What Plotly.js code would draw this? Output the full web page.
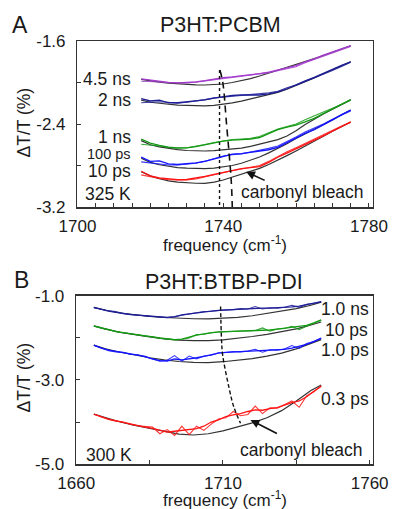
<!DOCTYPE html>
<html><head><meta charset="utf-8">
<script src="https://cdn.plot.ly/plotly-3.0.1.min.js"></script>
<style>html,body{margin:0;padding:0;background:#fff}#chart{width:393px;height:509px}</style>
</head><body><div id="chart"></div>
<script>
// ---------- Panel A: P3HT:PCBM (325 K) ----------
const freqA = [1717.5,1720,1722.5,1725,1727.5,1730,1732.5,1735,1737.5,1740,1742.5,1745,1747.5,1750,1752.5,1755,1757.5,1760,1762.5,1765,1767.5,1770,1772.5,1775];
const purpleA1 = [-1.965,-1.978,-1.99,-1.998,-2.003,-2.0,-1.993,-1.982,-1.965,-1.952,-1.945,-1.935,-1.928,-1.915,-1.9,-1.878,-1.86,-1.838,-1.8,-1.772,-1.735,-1.705,-1.675,-1.645];
const purpleA2 = [-1.988,-1.99,-1.995,-2.002,-2.006,-2.003,-1.996,-1.985,-1.97,-1.958,-1.948,-1.938,-1.93,-1.92,-1.905,-1.886,-1.867,-1.848,-1.81,-1.778,-1.745,-1.718,-1.685,-1.652];
const purpleFit = [-1.97,-1.985,-1.997,-2.006,-2.013,-2.018,-2.022,-2.024,-2.021,-2.014,-2.0,-1.984,-1.962,-1.937,-1.91,-1.882,-1.855,-1.83,-1.8,-1.77,-1.74,-1.71,-1.678,-1.645];
const navyA1 = [-2.155,-2.178,-2.17,-2.195,-2.195,-2.187,-2.178,-2.167,-2.15,-2.135,-2.125,-2.12,-2.12,-2.12,-2.11,-2.09,-2.06,-2.02,-1.985,-1.95,-1.91,-1.872,-1.835,-1.8];
const navyA2 = [-2.195,-2.19,-2.185,-2.19,-2.2,-2.19,-2.18,-2.165,-2.148,-2.14,-2.128,-2.125,-2.115,-2.11,-2.1,-2.085,-2.05,-2.025,-1.99,-1.96,-1.925,-1.885,-1.845,-1.805];
const navyFitA = [-2.17,-2.19,-2.2,-2.21,-2.217,-2.221,-2.224,-2.225,-2.22,-2.21,-2.197,-2.18,-2.16,-2.14,-2.118,-2.095,-2.065,-2.03,-1.993,-1.955,-1.915,-1.875,-1.838,-1.8];
const greenA1 = [-2.545,-2.585,-2.605,-2.622,-2.63,-2.63,-2.618,-2.6,-2.58,-2.565,-2.555,-2.55,-2.545,-2.53,-2.495,-2.455,-2.43,-2.41,-2.38,-2.345,-2.3,-2.255,-2.21,-2.165];
const greenA2 = [-2.595,-2.6,-2.612,-2.625,-2.632,-2.628,-2.615,-2.598,-2.578,-2.562,-2.55,-2.545,-2.538,-2.52,-2.485,-2.448,-2.425,-2.4,-2.36,-2.32,-2.285,-2.248,-2.21,-2.17];
const greenFitA = [-2.56,-2.6,-2.62,-2.635,-2.647,-2.655,-2.659,-2.66,-2.657,-2.65,-2.642,-2.632,-2.615,-2.595,-2.575,-2.55,-2.515,-2.465,-2.405,-2.35,-2.303,-2.258,-2.212,-2.167];
const blueA1 = [-2.72,-2.76,-2.755,-2.785,-2.79,-2.785,-2.775,-2.76,-2.735,-2.71,-2.69,-2.685,-2.675,-2.665,-2.648,-2.625,-2.58,-2.53,-2.49,-2.455,-2.41,-2.36,-2.31,-2.265];
const blueA2 = [-2.765,-2.775,-2.78,-2.795,-2.795,-2.79,-2.778,-2.758,-2.732,-2.708,-2.695,-2.688,-2.67,-2.655,-2.635,-2.612,-2.57,-2.525,-2.478,-2.44,-2.4,-2.355,-2.315,-2.275];
const blueFitA = [-2.73,-2.77,-2.793,-2.81,-2.82,-2.826,-2.829,-2.83,-2.825,-2.815,-2.8,-2.778,-2.75,-2.718,-2.678,-2.635,-2.59,-2.54,-2.495,-2.455,-2.41,-2.36,-2.31,-2.265];
const redA1 = [-2.855,-2.9,-2.92,-2.93,-2.937,-2.935,-2.922,-2.905,-2.885,-2.865,-2.845,-2.83,-2.82,-2.81,-2.77,-2.72,-2.68,-2.64,-2.6,-2.56,-2.515,-2.47,-2.425,-2.38];
const redA2 = [-2.89,-2.91,-2.925,-2.937,-2.942,-2.94,-2.93,-2.912,-2.89,-2.87,-2.85,-2.835,-2.818,-2.8,-2.76,-2.71,-2.668,-2.628,-2.585,-2.545,-2.505,-2.46,-2.42,-2.385];
const redFitA = [-2.86,-2.9,-2.928,-2.948,-2.96,-2.967,-2.971,-2.972,-2.96,-2.94,-2.912,-2.88,-2.855,-2.828,-2.79,-2.75,-2.705,-2.66,-2.61,-2.565,-2.518,-2.47,-2.425,-2.38];
const dotA_x = [1739, 1739];
const dotA_y = [-1.88, -3.2];
const dashA_x = [1739.1, 1739.9, 1740.9, 1742.2, 1742.5];
const dashA_y = [-1.88, -2.0, -2.39, -2.94, -3.2];
const labelsA = ['4.5 ns', '2 ns', '1 ns', '100 ps', '10 ps'];
const xTickValsA = [1700, 1740, 1780];
const xTickTextA = ['1700', '1740', '1780'];
const yTickValsA = [-3.2, -2.4, -1.6];
const yTickTextA = ['-3.2', '-2.4', '-1.6'];

// ---------- Panel B: P3HT:BTBP-PDI (300 K) ----------
const freqB = [1666,1668.5,1671,1673.5,1676,1678.5,1681,1683.5,1686,1688.5,1691,1693.5,1696,1698.5,1701,1703.5,1706,1708.5,1711,1713.5,1716,1718.5,1721,1723.5,1726,1728.5,1731,1733.5,1736,1738.5,1741,1743.5];
const freqBfit = [1666,1670,1675,1680,1685,1690,1695,1700,1705,1710,1715,1720,1725,1730,1735,1740,1743.5];
const navyB1 = [-1.27,-1.32,-1.36,-1.39,-1.42,-1.44,-1.455,-1.47,-1.49,-1.505,-1.51,-1.495,-1.45,-1.425,-1.4,-1.375,-1.36,-1.345,-1.335,-1.32,-1.31,-1.3,-1.295,-1.29,-1.29,-1.285,-1.28,-1.26,-1.24,-1.21,-1.175,-1.135];
const navyB2 = [-1.28,-1.32,-1.35,-1.37,-1.42,-1.445,-1.46,-1.475,-1.49,-1.5,-1.515,-1.49,-1.46,-1.42,-1.405,-1.37,-1.365,-1.34,-1.33,-1.325,-1.3,-1.31,-1.25,-1.31,-1.28,-1.29,-1.27,-1.22,-1.27,-1.2,-1.18,-1.14];
const navyFitB = [-1.27,-1.34,-1.405,-1.45,-1.485,-1.512,-1.53,-1.542,-1.545,-1.535,-1.51,-1.47,-1.415,-1.36,-1.3,-1.22,-1.15];
const greenB1 = [-1.71,-1.76,-1.81,-1.845,-1.87,-1.9,-1.925,-1.95,-1.975,-2.0,-2.025,-2.04,-2.025,-1.97,-1.93,-1.9,-1.875,-1.855,-1.85,-1.845,-1.84,-1.83,-1.825,-1.815,-1.81,-1.79,-1.77,-1.755,-1.73,-1.7,-1.64,-1.57];
const greenB2 = [-1.72,-1.77,-1.8,-1.85,-1.875,-1.895,-1.93,-1.955,-1.97,-2.005,-2.02,-2.045,-2.03,-2.0,-1.92,-1.91,-1.87,-1.86,-1.845,-1.85,-1.835,-1.835,-1.82,-1.76,-1.84,-1.785,-1.775,-1.72,-1.8,-1.72,-1.645,-1.575];
const greenFitB = [-1.71,-1.79,-1.865,-1.925,-1.975,-2.02,-2.05,-2.062,-2.065,-2.045,-2.01,-1.965,-1.915,-1.855,-1.785,-1.69,-1.62];
const blueB1 = [-2.17,-2.24,-2.29,-2.32,-2.35,-2.38,-2.41,-2.44,-2.5,-2.54,-2.55,-2.5,-2.52,-2.5,-2.47,-2.44,-2.4,-2.36,-2.34,-2.33,-2.325,-2.32,-2.31,-2.29,-2.29,-2.28,-2.27,-2.24,-2.19,-2.15,-2.08,-2.0];
const blueB2 = [-2.18,-2.23,-2.3,-2.33,-2.34,-2.39,-2.4,-2.45,-2.49,-2.55,-2.53,-2.42,-2.55,-2.43,-2.5,-2.43,-2.41,-2.35,-2.345,-2.32,-2.33,-2.31,-2.27,-2.34,-2.28,-2.29,-2.26,-2.18,-2.25,-2.13,-2.09,-2.01];
const blueFitB = [-2.17,-2.26,-2.34,-2.41,-2.47,-2.52,-2.56,-2.58,-2.585,-2.565,-2.535,-2.49,-2.43,-2.36,-2.26,-2.13,-2.04];
const redB1 = [-3.81,-3.88,-3.93,-3.97,-4.01,-4.05,-4.08,-4.12,-4.15,-4.2,-4.24,-4.22,-4.2,-4.18,-4.16,-4.1,-4.0,-3.95,-3.87,-3.83,-3.8,-3.75,-3.71,-3.72,-3.68,-3.66,-3.6,-3.54,-3.5,-3.4,-3.27,-3.15];
const redB2 = [-3.82,-3.87,-3.94,-3.98,-4.0,-4.06,-4.09,-4.11,-4.12,-4.28,-4.18,-4.32,-4.1,-4.3,-4.1,-4.2,-4.05,-3.93,-3.9,-3.75,-3.85,-3.82,-3.62,-3.8,-3.66,-3.67,-3.58,-3.5,-3.65,-3.38,-3.28,-3.14];
const redFitB = [-3.81,-3.9,-4.0,-4.08,-4.15,-4.22,-4.29,-4.31,-4.28,-4.21,-4.12,-4.02,-3.9,-3.73,-3.5,-3.25,-3.12];
const dashB_x = [1709.2, 1709.5, 1709.9, 1712, 1713.7, 1716];
const dashB_y = [-1.25, -2.0, -2.4, -3.16, -3.64, -4.03];
const labelsB = ['1.0 ns', '10 ps', '1.0 ps', '0.3 ps'];
const xTickValsB = [1660, 1710, 1760];
const xTickTextB = ['1660', '1710', '1760'];
const yTickValsB = [-5, -3, -1];
const yTickTextB = ['-5.0', '-3.0', '-1.0'];

// ---------- styles ----------
const FONT = 'Arial, "Liberation Sans", sans-serif';
const C = {purple:'#a33ccc', navy:'#1e1e96', green:'#149a14', blue:'#1414ff', red:'#ff1414', fit:'#333333'};
const W = 393, H = 509;

const traces = [];
function series(xs, y1, y2, xf, fit, color, xa, ya) {
  traces.push({x: xf, y: fit, xaxis: xa, yaxis: ya, mode: 'lines', line: {color: C.fit, width: 1.2}, hoverinfo: 'skip'});
  traces.push({x: xs, y: y2, xaxis: xa, yaxis: ya, mode: 'lines', line: {color: color, width: 1.1}, opacity: 0.85, hoverinfo: 'skip'});
  traces.push({x: xs, y: y1, xaxis: xa, yaxis: ya, mode: 'lines', line: {color: color, width: 1.3}, hoverinfo: 'skip'});
}
series(freqA, purpleA1, purpleA2, freqA, purpleFit, C.purple, 'x', 'y');
series(freqA, navyA1, navyA2, freqA, navyFitA, C.navy, 'x', 'y');
series(freqA, greenA1, greenA2, freqA, greenFitA, C.green, 'x', 'y');
series(freqA, blueA1, blueA2, freqA, blueFitA, C.blue, 'x', 'y');
series(freqA, redA1, redA2, freqA, redFitA, C.red, 'x', 'y');
traces.push({x: dotA_x, y: dotA_y, xaxis: 'x', yaxis: 'y', mode: 'lines', line: {color: '#111', width: 1.4, dash: 'dot'}});
traces.push({x: dashA_x, y: dashA_y, xaxis: 'x', yaxis: 'y', mode: 'lines', line: {color: '#111', width: 1.6, dash: '7px,5px', shape: 'spline'}});

series(freqB, navyB1, navyB2, freqBfit, navyFitB, C.navy, 'x2', 'y2');
series(freqB, greenB1, greenB2, freqBfit, greenFitB, C.green, 'x2', 'y2');
series(freqB, blueB1, blueB2, freqBfit, blueFitB, C.blue, 'x2', 'y2');
series(freqB, redB1, redB2, freqBfit, redFitB, C.red, 'x2', 'y2');
traces.push({x: dashB_x, y: dashB_y, xaxis: 'x2', yaxis: 'y2', mode: 'lines', line: {color: '#111', width: 1.4, dash: '4px,2.5px', shape: 'spline'}});

function axisX(domain, anchor, range, tv, tt, minorD) {
  return {domain, anchor, range, tickmode: 'array', tickvals: tv, ticktext: tt,
    ticks: 'inside', ticklen: 4, tickwidth: 1, tickcolor: '#333', ticklabelstandoff: 3,
    minor: {dtick: minorD, tick0: range[0], ticks: 'inside', ticklen: 4, tickwidth: 1, tickcolor: '#333'},
    showline: true, mirror: true, linecolor: '#333', linewidth: 1.5,
    showgrid: false, zeroline: false, tickfont: {family: FONT, size: 17, color: '#1a1a1a'}};
}
function axisY(domain, anchor, range, tv, tt, minorD) {
  return {domain, anchor, range, tickmode: 'array', tickvals: tv, ticktext: tt,
    ticks: 'inside', ticklen: 4, tickwidth: 1, tickcolor: '#333', ticklabelstandoff: 7,
    minor: {dtick: minorD, tick0: range[0], ticks: 'inside', ticklen: 4, tickwidth: 1, tickcolor: '#333'},
    showline: true, mirror: true, linecolor: '#333', linewidth: 1.5,
    showgrid: false, zeroline: false, tickfont: {family: FONT, size: 17, color: '#1a1a1a'}};
}

function lab(text, px, py, xanchor, size, extra) {
  return Object.assign({text, x: px / W, y: 1 - py / H, xref: 'paper', yref: 'paper',
    xanchor, yanchor: 'middle', showarrow: false, borderpad: 0,
    font: {family: FONT, size, color: '#1a1a1a'}}, extra || {});
}

const annotations = [
  lab('A', 20, 25, 'center', 23),
  lab('P3HT:PCBM', 220, 25, 'center', 21.5),
  lab('B', 21.5, 280, 'center', 23),
  lab('P3HT:BTBP-PDI', 224, 282, 'center', 21.5),
  lab(labelsA[0], 132, 79, 'right', 17.5),
  lab(labelsA[1], 132, 100, 'right', 17.5),
  lab(labelsA[2], 132, 137, 'right', 17.5),
  lab(labelsA[3], 132, 153.5, 'right', 14.5),
  lab(labelsA[4], 132, 170.5, 'right', 17.5),
  lab('325 K', 132, 193.5, 'right', 17.5),
  lab('carbonyl bleach', 240, 192, 'left', 17.5),
  lab(labelsB[0], 370, 308.5, 'right', 17.5),
  lab(labelsB[1], 369, 329.5, 'right', 17.5),
  lab(labelsB[2], 370, 350, 'right', 17.5),
  lab(labelsB[3], 370, 398.5, 'right', 17.5),
  lab('300 K', 85, 455, 'left', 17.5),
  lab('carbonyl bleach', 239, 449.5, 'left', 17.5),
  lab('ΔT/T (%)', 23.5, 123, 'center', 17.5, {textangle: -90}),
  lab('ΔT/T (%)', 23.5, 378, 'center', 17.5, {textangle: -90}),
  lab('frequency (cm<sup>-1</sup>)', 225, 243.5, 'center', 17),
  lab('frequency (cm<sup>-1</sup>)', 225, 498.5, 'center', 17),
  {x: 1746.3, y: -2.86, ax: 1751.8, ay: -2.95, xref: 'x', yref: 'y', axref: 'x', ayref: 'y',
   text: '', showarrow: true, arrowhead: 2, arrowsize: 1.1, arrowwidth: 1.6, arrowcolor: '#111'},
  {x: 1719.4, y: -3.95, ax: 1728.9, ay: -4.29, xref: 'x2', yref: 'y2', axref: 'x2', ayref: 'y2',
   text: '', showarrow: true, arrowhead: 2, arrowsize: 1.1, arrowwidth: 1.6, arrowcolor: '#111'}
];

const layout = {
  width: W, height: H, margin: {l: 0, r: 0, t: 0, b: 0},
  paper_bgcolor: '#fff', plot_bgcolor: '#fff', showlegend: false,
  font: {family: FONT, color: '#1a1a1a'},
  xaxis: axisX([0.197, 0.948], 'y', [1700, 1781], xTickValsA, xTickTextA, 5),
  yaxis: axisY([0.5933, 0.9194], 'x', [-3.2, -1.6], yTickValsA, yTickTextA, 0.4),
  xaxis2: axisX([0.194, 0.948], 'y2', [1660, 1761], xTickValsB, xTickTextB, 25),
  yaxis2: axisY([0.0884, 0.4185], 'x2', [-5, -1], yTickValsB, yTickTextB, 1),
  annotations
};

Plotly.newPlot('chart', traces, layout, {staticPlot: true, displayModeBar: false});
</script>
</body></html>
